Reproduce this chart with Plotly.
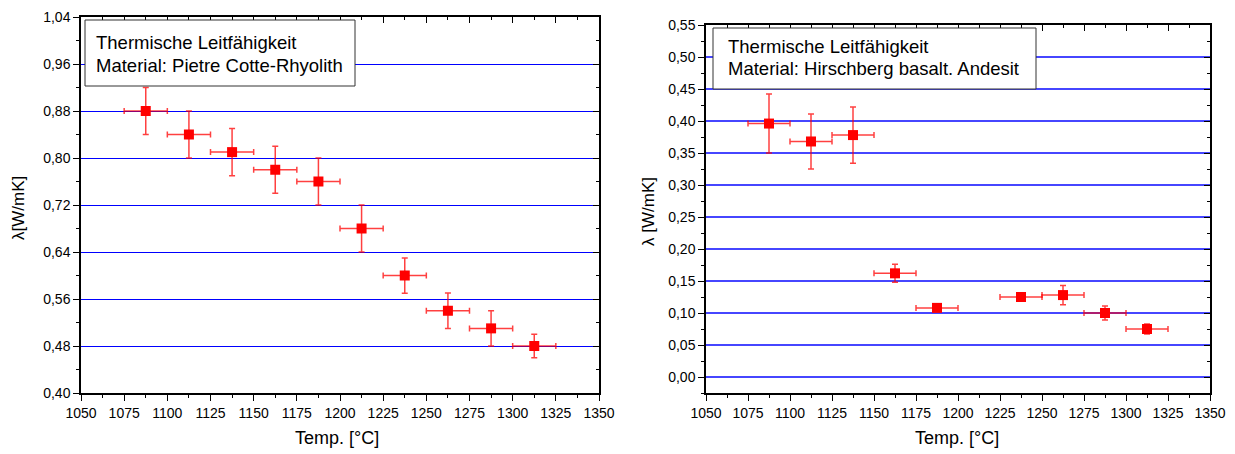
import plotly.graph_objects as go

# ---- data: left panel (Pietre Cotte-Rhyolith)
temp_left = [1087.5, 1112.5, 1137.5, 1162.5, 1187.5, 1212.5, 1237.5, 1262.5, 1287.5, 1312.5]
lam_left = [0.88, 0.84, 0.81, 0.78, 0.76, 0.68, 0.60, 0.54, 0.51, 0.48]
lam_left_err = [0.04, 0.04, 0.04, 0.04, 0.04, 0.04, 0.03, 0.03, 0.03, 0.02]
temp_left_err = [12.5] * 10

# ---- data: right panel (Hirschberg basalt. Andesit)
temp_right = [1087.5, 1112.5, 1137.5, 1162.5, 1187.5, 1237.5, 1262.5, 1287.5, 1312.5]
lam_right = [0.396, 0.368, 0.378, 0.162, 0.108, 0.125, 0.128, 0.100, 0.075]
lam_right_err = [0.046, 0.043, 0.044, 0.014, 0.003, 0.003, 0.015, 0.011, 0.008]
temp_right_err = [12.5] * 9

label_left = ["Thermische Leitfähigkeit", "Material: Pietre Cotte-Rhyolith"]
label_right = ["Thermische Leitfähigkeit", "Material: Hirschberg basalt. Andesit"]
x_title = "Temp. [°C]"
y_title_left = "λ[W/mK]"
y_title_right = "λ [W/mK]"

W, H = 1235, 454
FONT = "Liberation Sans, Arial, sans-serif"
TICKFONT = "Liberation Sans Narrow, Arial Narrow, Liberation Sans, sans-serif"
RED = "#ff0000"
BLUE = "#0000ff"
BLUE_R = "rgb(70,70,255)"


def px_x(p):
    return p / W


def px_y(p):
    return 1 - p / H


fig = go.Figure()


def add_series(x, y, ex, ey, xa, ya):
    fig.add_trace(go.Scatter(
        x=x, y=y, mode="markers", xaxis=xa, yaxis=ya,
        marker=dict(symbol="square", size=10, color=RED),
        error_x=dict(type="data", array=ex, color="rgba(255,0,0,0.75)", thickness=1.5, width=3),
        error_y=dict(type="data", array=ey, color="rgba(255,0,0,0.75)", thickness=1.5, width=3),
        showlegend=False, hoverinfo="x+y",
    ))


add_series(temp_left, lam_left, temp_left_err, lam_left_err, "x", "y")
add_series(temp_right, lam_right, temp_right_err, lam_right_err, "x2", "y2")
# dummy traces so the mirror axes (inside ticks) are drawn
for xa, ya in [("x3", "y3"), ("x4", "y4")]:
    fig.add_trace(go.Scatter(x=[None], y=[None], xaxis=xa, yaxis=ya, showlegend=False, hoverinfo="skip"))

tickfont = dict(family=TICKFONT, size=14, color="#000")


def xaxis_main(domain, anchor):
    return dict(
        domain=domain, anchor=anchor, range=[1050, 1350], dtick=25, tick0=1050,
        showline=True, linecolor="#000", linewidth=1.5,
        ticks="outside", ticklen=6, tickwidth=1.2, tickcolor="#000",
        minor=dict(ticks="outside", ticklen=3.5, dtick=12.5, tickcolor="#000", tickwidth=1.2, showgrid=False),
        showgrid=False, zeroline=False, tickfont=tickfont, automargin=False,
    )


def yaxis_main(domain, anchor, rng, dtick, minor, tick0, gridcolor, gridwidth):
    return dict(
        domain=domain, anchor=anchor, range=rng, dtick=dtick, tick0=tick0,
        showline=True, linecolor="#000", linewidth=1.5,
        ticks="outside", ticklen=6, tickwidth=1.2, tickcolor="#000",
        minor=dict(ticks="outside", ticklen=3.5, dtick=minor, tickcolor="#000", tickwidth=1.2, showgrid=False),
        showgrid=True, gridcolor=gridcolor, gridwidth=gridwidth,
        zeroline=False, tickformat=".2f", tickfont=tickfont, automargin=False,
    )


def xaxis_top(overlay, domain, anchor):
    return dict(
        overlaying=overlay, side="top", domain=domain, anchor=anchor, range=[1050, 1350], dtick=25, tick0=1050,
        showline=True, linecolor="#000", linewidth=1.5,
        ticks="inside", ticklen=6, tickwidth=1.2, tickcolor="#000",
        minor=dict(ticks="inside", ticklen=3.5, dtick=12.5, tickcolor="#000", tickwidth=1.2, showgrid=False),
        showgrid=False, zeroline=False, showticklabels=False, automargin=False,
    )


def yaxis_right(overlay, domain, anchor, rng, dtick, minor, tick0):
    return dict(
        overlaying=overlay, side="right", domain=domain, anchor=anchor, range=rng, dtick=dtick, tick0=tick0,
        showline=True, linecolor="#000", linewidth=1.5,
        ticks="inside", ticklen=6, tickwidth=1.2, tickcolor="#000",
        minor=dict(ticks="inside", ticklen=3.5, dtick=minor, tickcolor="#000", tickwidth=1.2, showgrid=False),
        showgrid=False, zeroline=False, showticklabels=False, automargin=False,
    )


xd1 = [px_x(81), px_x(599)]
yd1 = [px_y(393), px_y(17)]
xd2 = [px_x(706), px_x(1210)]
yd2 = [px_y(393), px_y(25)]

rng1 = [0.40, 1.04]
rng2 = [-0.025, 0.55]

fig.update_layout(
    width=W, height=H,
    margin=dict(l=0, r=0, t=0, b=0, pad=0),
    paper_bgcolor="white", plot_bgcolor="white",
    separators=",.",
    font=dict(family=FONT, color="#000"),
    xaxis=xaxis_main(xd1, "y"),
    yaxis=yaxis_main(yd1, "x", rng1, 0.08, 0.04, 0.40, BLUE, 1),
    xaxis2=xaxis_main(xd2, "y2"),
    yaxis2=yaxis_main(yd2, "x2", rng2, 0.05, 0.025, 0.0, BLUE_R, 2),
    xaxis3=xaxis_top("x", xd1, "y3"),
    yaxis3=yaxis_right("y", yd1, "x3", rng1, 0.08, 0.04, 0.40),
    xaxis4=xaxis_top("x2", xd2, "y4"),
    yaxis4=yaxis_right("y2", yd2, "x4", rng2, 0.05, 0.025, 0.0),
)

# text boxes
fig.add_shape(type="rect", xref="paper", yref="paper",
              x0=px_x(85), x1=px_x(355), y0=px_y(86), y1=px_y(20),
              line=dict(color="#333", width=1), fillcolor="white", layer="above")
fig.add_shape(type="rect", xref="paper", yref="paper",
              x0=px_x(713), x1=px_x(1036), y0=px_y(89), y1=px_y(28),
              line=dict(color="#333", width=1), fillcolor="white", layer="above")

for i, t in enumerate(label_left):
    fig.add_annotation(xref="paper", yref="paper", x=px_x(94), y=px_y(42 + 23 * i),
                       text=t, showarrow=False, xanchor="left", yanchor="middle",
                       font=dict(family=FONT, size=18.5, color="#000"))
for i, t in enumerate(label_right):
    fig.add_annotation(xref="paper", yref="paper", x=px_x(726), y=px_y(46 + 23 * i),
                       text=t, showarrow=False, xanchor="left", yanchor="middle",
                       font=dict(family=FONT, size=18.5, color="#000"))

# axis titles
fig.add_annotation(xref="paper", yref="paper", x=px_x(337), y=px_y(438), text=x_title,
                   showarrow=False, xanchor="center", yanchor="middle",
                   font=dict(family=FONT, size=18, color="#000"))
fig.add_annotation(xref="paper", yref="paper", x=px_x(957), y=px_y(438), text=x_title,
                   showarrow=False, xanchor="center", yanchor="middle",
                   font=dict(family=FONT, size=18, color="#000"))
fig.add_annotation(xref="paper", yref="paper", x=px_x(18), y=px_y(208), text=y_title_left,
                   showarrow=False, textangle=-90, xanchor="center", yanchor="middle",
                   font=dict(family=FONT, size=17, color="#000"))
fig.add_annotation(xref="paper", yref="paper", x=px_x(648), y=px_y(212), text=y_title_right,
                   showarrow=False, textangle=-90, xanchor="center", yanchor="middle",
                   font=dict(family=FONT, size=17, color="#000"))

fig.write_html("out.html")
